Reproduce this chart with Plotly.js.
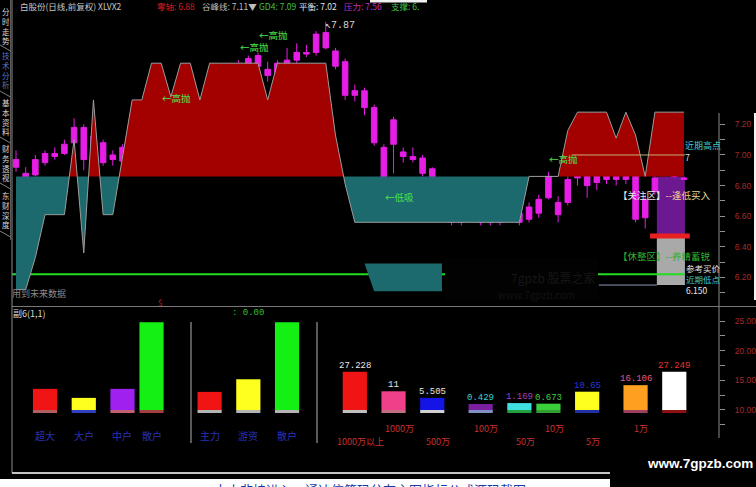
<!DOCTYPE html>
<html>
<head>
<meta charset="utf-8">
<script src="https://cdn.plot.ly/plotly-3.0.1.min.js"></script>
<style>
html,body{margin:0;padding:0;background:#000;overflow:hidden}
#chart{width:756px;height:487px}
</style>
</head>
<body>
<div id="chart"></div>
<script>
// ---- daily bars (前复权) ----
const open  = [6.97,6.82,6.87,6.95,6.99,7.01,7.08,7.18,7.00,7.08,
               6.97,6.96,7.05,7.14,7.21,7.21,7.20,7.13,7.28,7.29,
               7.21,7.31,7.40,7.46,7.59,7.65,7.56,7.52,7.59,7.62,
               7.66,7.67,7.70,7.68,7.61,7.39,7.42,7.31,7.05,7.07,
               7.02,6.99,6.98,6.91,6.75,6.69,6.59,6.59,6.73,6.57,
               6.56,6.66,6.62,6.58,6.62,6.72,6.69,6.69,6.85,6.92,
               6.82,6.84,6.86,6.84,6.92,6.59,6.76,6.95,6.99,6.85];
const high  = [7.03,6.92,7.00,7.03,7.05,7.10,7.24,7.20,7.14,7.10,
               7.03,7.07,7.16,7.24,7.25,7.29,7.23,7.30,7.33,7.31,
               7.36,7.41,7.47,7.62,7.65,7.67,7.61,7.62,7.70,7.73,
               7.72,7.81,7.87,7.70,7.63,7.46,7.44,7.33,7.07,7.25,
               7.05,7.05,7.00,6.92,6.77,6.71,6.63,6.79,6.74,6.65,
               6.67,6.68,6.64,6.69,6.74,6.89,6.73,6.86,6.97,6.97,
               6.92,6.90,6.89,6.95,6.93,6.74,6.87,7.10,7.01,6.85];
const low   = [6.89,6.80,6.86,6.93,6.97,7.00,7.07,6.90,6.98,6.93,
               6.93,6.93,7.03,7.12,7.18,7.19,7.08,7.11,7.22,7.19,
               7.19,7.27,7.36,7.42,7.56,7.54,7.48,7.49,7.52,7.52,
               7.64,7.65,7.69,7.56,7.36,7.35,7.26,7.06,6.77,6.88,
               6.95,6.95,6.86,6.77,6.61,6.54,6.54,6.58,6.54,6.54,
               6.54,6.59,6.54,6.56,6.59,6.71,6.56,6.67,6.80,6.72,
               6.77,6.81,6.80,6.81,6.56,6.52,6.74,6.90,6.85,6.84];
const close = [6.92,6.88,6.97,7.01,7.01,7.07,7.18,6.97,7.12,6.95,
               7.00,7.05,7.14,7.22,7.24,7.27,7.12,7.29,7.29,7.22,
               7.34,7.39,7.45,7.59,7.63,7.58,7.52,7.60,7.62,7.67,
               7.67,7.79,7.80,7.58,7.39,7.42,7.31,7.08,6.85,7.23,
               6.99,6.97,6.88,6.79,6.66,6.56,6.56,6.75,6.56,6.56,
               6.66,6.62,6.56,6.66,6.71,6.86,6.61,6.84,6.93,6.80,
               6.88,6.88,6.84,6.92,6.58,6.71,6.85,6.99,6.86,6.84];

// ---- XLVX2 band line (price units) ----
const bandLine = [6.12,6.12,6.33,6.61,6.61,6.61,7.10,6.36,7.36,6.61,
                  6.61,7.00,7.36,7.36,7.60,7.60,7.38,7.60,7.60,7.36,
                  7.60,7.60,7.60,7.60,7.60,7.60,7.36,7.60,7.60,7.60,
                  7.60,7.60,7.60,7.13,6.81,6.56,6.56,6.56,6.56,6.56,
                  6.56,6.56,6.56,6.56,6.56,6.56,6.56,6.56,6.56,6.56,
                  6.56,6.56,6.56,6.86,6.86,6.86,6.86,7.16,7.28,7.28,
                  7.28,7.28,7.11,7.28,7.13,6.86,7.28,7.28,7.28,7.28];
const bandBase = 6.86;

// lower support band
const lowBandIdx    = [36,37,38,39,40,41,42,43,44];
const lowBandTop    = [6.29,6.29,6.29,6.29,6.29,6.29,6.29,6.29,6.29];
const lowBandBottom = [6.29,6.11,6.11,6.11,6.11,6.11,6.11,6.11,6.11];

// key levels
const supportLevel = 6.22;
const recentHigh   = 7;
const buyPrice     = 6.47;
const recentLow    = 6.15;

// signal bars
const sellSignals = [15, 23, 25, 55];
const buySignals  = [38];

// ---- 副6 panel ----
const slotsA  = [3, 7, 11, 14];
const shareA  = [13, 5.5, 13, 68.5];
const classA  = ['超大', '大户', '中户', '散户'];
const slotsB  = [20, 24, 28];
const shareB  = [10.5, 21, 68.5];
const classB  = ['主力', '游资', '散户'];
const slotsC  = [35, 39, 43, 48, 52, 55, 59, 64, 68];
const tierVal = [27.228, 11, 5.505, 0.429, 1.169, 0.673, 10.65, 16.106, 27.249];
const tierTag = ['1000万以上', '1000万', '500万', '100万', '50万', '10万', '5万', '1万'];

const priceTicks = [6.2, 6.4, 6.6, 6.8, 7.0, 7.2];
const priceMinor = [6.1, 6.3, 6.5, 6.7, 6.9, 7.1];
const subTicks   = [10, 15, 20, 25];
const subMinor   = [7.5, 12.5, 17.5, 22.5];

// ---- drawing ----
const W = 756, H = 487;
const px = v => v / W;
const py = v => 1 - v / H;
const CJK = 'Noto Sans CJK SC, Noto Sans, sans-serif';
const MONO = 'Liberation Mono, DejaVu Sans Mono, monospace';

const priceRange = [6.013, 8.013];
const pricePx = 306 / (priceRange[1] - priceRange[0]);   // pixels per price unit
const toPx = p => (priceRange[1] - p) * pricePx;

const idx = open.map((_, i) => i);
const lastIdx = idx[idx.length - 1];

// split the band line at crossings of the base so fills meet cleanly
const fx = [], fv = [];
for (let i = 0; i < bandLine.length; i++) {
  fx.push(i); fv.push(bandLine[i]);
  if (i < bandLine.length - 1) {
    const a = bandLine[i] - bandBase, b = bandLine[i + 1] - bandBase;
    if (a * b < 0) { fx.push(i + a / (a - b)); fv.push(bandBase); }
  }
}
const baseArr = fv.map(() => bandBase);
const upper = fv.map(v => Math.max(v, bandBase));
const lower = fv.map(v => Math.min(v, bandBase));

const noLine = {width: 0, color: 'rgba(0,0,0,0)'};
const traces = [
  {type: 'scatter', x: fx, y: baseArr, mode: 'lines', line: noLine, hoverinfo: 'skip'},
  {type: 'scatter', x: fx, y: upper, mode: 'lines', line: noLine, fill: 'tonexty', fillcolor: '#a30000', hoverinfo: 'skip'},
  {type: 'scatter', x: fx, y: baseArr, mode: 'lines', line: noLine, hoverinfo: 'skip'},
  {type: 'scatter', x: fx, y: lower, mode: 'lines', line: noLine, fill: 'tonexty', fillcolor: '#1c6a6d', hoverinfo: 'skip'},
  {type: 'scatter',
   x: lowBandIdx.concat(lowBandIdx.slice().reverse()),
   y: lowBandTop.concat(lowBandBottom.slice().reverse()),
   mode: 'lines', line: noLine, fill: 'toself', fillcolor: '#1c6a6d', hoverinfo: 'skip'},
  {type: 'scatter', x: idx, y: bandLine, mode: 'lines', line: {color: '#9c9c9c', width: 1}, hoverinfo: 'skip'},
  {type: 'candlestick', x: idx, open: open, high: high, low: low, close: close,
   increasing: {line: {color: '#e61ee6', width: 1}, fillcolor: '#e61ee6'},
   decreasing: {line: {color: '#e61ee6', width: 1}, fillcolor: '#e61ee6'},
   whiskerwidth: 0, hoverinfo: 'skip'}
];

// sub-panel bars sit on a raised floor
const barFloor = -4.6, stripH = 2.5, barW = 2.5;
function barTrace(slots, vals, colors) {
  return {type: 'bar', x: slots, y: vals.map(v => v - barFloor), base: barFloor, width: barW,
          marker: {color: colors, line: {width: 0}}, xaxis: 'x', yaxis: 'y3', hoverinfo: 'skip'};
}
function stripTrace(slots, colors) {
  return {type: 'bar', x: slots, y: slots.map(() => stripH), base: barFloor - stripH, width: barW,
          marker: {color: colors, line: {width: 0}}, xaxis: 'x', yaxis: 'y3', hoverinfo: 'skip'};
}
traces.push(barTrace(slotsA, shareA, ['#f01414', '#ffff1e', '#a020f0', '#14f014']));
traces.push(stripTrace(slotsA, ['#b06060', '#3040c0', '#c06070', '#a04040']));
traces.push(barTrace(slotsB, shareB, ['#f01414', '#ffff1e', '#14f014']));
traces.push(stripTrace(slotsB, ['#b4b4b4', '#b4b4b4', '#b4b4b4']));
traces.push(barTrace(slotsC, tierVal, ['#f01414', '#f0408a', '#1414e6', '#7a1fa0', '#40e0e0', '#3ccf3c', '#ffff1e', '#ffa020', '#ffffff']));
traces.push(stripTrace(slotsC, ['#c0c0c0', '#c07080', '#d0d0d0', '#8090c0', '#20a040', '#30a030', '#2030a0', '#a04060', '#8b1010']));

// ---- annotations ----
const ann = [];
function txt(x, y, text, color, size, opts) {
  ann.push(Object.assign({xref: 'paper', yref: 'paper', x: px(x), y: py(y), text: text,
    showarrow: false, xanchor: 'left', yanchor: 'middle', borderpad: 0,
    font: {family: CJK, size: size, color: color}}, opts || {}));
}
const span = (t, c) => '<span style="color:' + c + '">' + t + '</span>';

// header line
txt(19, 6, '白股份(日线,前复权) XLVX2', '#c8c8c8', 8.5);
txt(156, 6, '零轴: 6.88', '#d02020', 8.5);
txt(201, 6, '谷峰线: 7.11▼', '#bdbdbd', 8.5);
txt(258, 6, 'GD4: 7.09', '#40c040', 8.5);
txt(298, 6, '平衡: 7.02', '#e0e0e0', 8.5);
txt(343, 6, '压力: 7.56', '#c030c0', 8.5);
txt(390, 6, '支撑: 6.', '#40c040', 8.5);

// side tabs, one stacked column each
const tabs = [
  ['分时走势', 25.5, '#d8d8d8'], ['技术分析', 70, '#4f78d0'], ['基本资料', 117, '#d8d8d8'],
  ['财务透视', 163, '#d8d8d8'], ['东财深度', 210, '#d8d8d8']
];
tabs.forEach(([t, yc, c]) => txt(5.5, yc, [...t].join('<br>'), c, 7.5, {xanchor: 'center'}));

// peak price
const peak = high.indexOf(Math.max(...high));
ann.push({xref: 'x', yref: 'y', x: peak, y: high[peak], text: '↖' + high[peak].toFixed(2),
  showarrow: false, xanchor: 'left', yanchor: 'middle', yshift: -4, xshift: -2, borderpad: 0,
  font: {family: MONO, size: 10, color: '#d8d8d8'}});

// sell tags sit above the bar high; crowded neighbours are stacked upward
const placed = [];
sellSignals.forEach(i => {
  let yc = toPx(high[i]) - 13;
  placed.forEach(p => { if (Math.abs(i - p.i) < 4 && Math.abs(yc - p.y) < 12) yc = p.y - 12; });
  placed.push({i: i, y: yc});
  ann.push({xref: 'x', yref: 'y', x: i, y: high[i], text: '←高抛',
    showarrow: false, xanchor: 'left', yanchor: 'middle', yshift: toPx(high[i]) - yc, borderpad: 0,
    font: {family: CJK, size: 9.5, color: '#4ee04e'}});
});
buySignals.forEach(i => ann.push({xref: 'x', yref: 'y', x: i, y: low[i], text: '←低吸',
  showarrow: false, xanchor: 'left', yanchor: 'middle', yshift: -7, borderpad: 0,
  font: {family: CJK, size: 9.5, color: '#4ee04e'}}));

// zone notes
txt(684, 151.5, span('近期高点', '#40c8d0') + '<br>' + span(String(recentHigh), '#d8d8d8'), '#d8d8d8', 9,
    {align: 'left'});
txt(617, 195, span('【关注区】', '#e8e8e8') + '--逢低买入', '#e6d690', 9.5);
txt(617, 256, '【休整区】--养精蓄锐', '#30b030', 9.5);
txt(685, 278.5, span('参考买价', '#e0e0e0') + '<br>' + span('近期低点', '#40c8d0') + '<br>' +
    span(recentLow.toFixed(3), '#e8e8e8'), '#e0e0e0', 8.5, {align: 'left'});
txt(11, 293, '用到未来数据', '#8a8a8a', 9);
txt(157, 302, '$', '#d02020', 8);

// faint logo mark
txt(510, 277, '7gpzb 股票之家', '#161616', 12);
txt(497, 294, 'www.7gpzb.com', '#121212', 10);

// sub panel
txt(12, 313, '副6(1,1)', '#d8d8d8', 9);
txt(231, 313, ': 0.00', '#30c030', 9, {font: {family: MONO, size: 9, color: '#30c030'}});
const tierColors = ['#e8e8e8', '#e8e8e8', '#e8e8e8', '#40d0d0', '#a040c0', '#40d040', '#2838d8', '#e85888', '#e83030'];
slotsC.forEach((s, k) => ann.push({xref: 'x', yref: 'y3', x: s, y: tierVal[k],
  text: String(tierVal[k]), showarrow: false, xanchor: 'center', yanchor: 'bottom', yshift: 0, borderpad: 0,
  font: {family: MONO, size: 9, color: tierColors[k]}}));
tierTag.forEach((t, k) => ann.push({xref: 'x', yref: 'paper', x: slotsC[k] + 0.6, y: py(k % 2 ? 428 : 441),
  text: t, showarrow: false, xanchor: 'center', yanchor: 'middle', borderpad: 0,
  font: {family: CJK, size: 9, color: '#c83030'}}));
slotsA.forEach((s, k) => ann.push({xref: 'x', yref: 'paper', x: s, y: py(435), text: classA[k],
  showarrow: false, xanchor: 'center', yanchor: 'middle', borderpad: 0, font: {family: CJK, size: 10, color: '#2830b8'}}));
slotsB.forEach((s, k) => ann.push({xref: 'x', yref: 'paper', x: s, y: py(435), text: classB[k],
  showarrow: false, xanchor: 'center', yanchor: 'middle', borderpad: 0, font: {family: CJK, size: 10, color: '#2830b8'}}));

// footer
txt(213, 489, '大小非持进入，通达信筹码分布主图指标公式源码截图', '#1838a8', 13);
txt(700, 463, 'www.7gpzb.com', '#ffffff', 13.5,
  {xanchor: 'center', font: {family: 'Liberation Sans, Arial, sans-serif', size: 13.5, color: '#ffffff', weight: 'bold'}});

// ---- shapes ----
const shapes = [];
function pline(x0, y0, x1, y1, color, width, layer) {
  shapes.push({type: 'line', xref: 'paper', yref: 'paper', x0: px(x0), y0: py(y0), x1: px(x1), y1: py(y1),
    line: {color: color, width: width || 1}, layer: layer || 'above'});
}
function prect(x0, y0, x1, y1, color) {
  shapes.push({type: 'rect', xref: 'paper', yref: 'paper', x0: px(x0), y0: py(y0), x1: px(x1), y1: py(y1),
    fillcolor: color, line: {width: 0}, layer: 'above'});
}
// right-hand zones on the last bars
const zoneX0 = 66.2, zoneX1 = lastIdx + 0.1;
shapes.push({type: 'rect', xref: 'x', yref: 'y', x0: zoneX0, x1: zoneX1, y0: buyPrice, y1: bandBase,
  fillcolor: '#6c1890', line: {width: 0}, layer: 'below'});
shapes.push({type: 'rect', xref: 'x', yref: 'y', x0: zoneX0, x1: zoneX1, y0: recentLow, y1: buyPrice,
  fillcolor: '#a9a9a9', line: {width: 0}, layer: 'below'});
shapes.push({type: 'line', xref: 'x', yref: 'y', x0: -0.4, x1: zoneX1, y0: supportLevel, y1: supportLevel,
  line: {color: '#22dd22', width: 2}, layer: 'below'});
shapes.push({type: 'line', xref: 'x', yref: 'y', x0: 60.2, x1: zoneX0, y0: recentLow, y1: recentLow,
  line: {color: '#8896b8', width: 1}, layer: 'above'});
shapes.push({type: 'line', xref: 'x', yref: 'y', x0: 57.4, x1: zoneX1, y0: recentHigh, y1: recentHigh,
  line: {color: '#c8b070', width: 1}, layer: 'above'});
shapes.push({type: 'line', xref: 'x', yref: 'y', x0: 65.5, x1: lastIdx + 0.6, y0: buyPrice, y1: buyPrice,
  line: {color: '#e82020', width: 5}, layer: 'above'});
// logo patch
prect(445, 258, 598, 300, '#020202');

// frame
pline(12, 0, 12, 473, '#8c8c8c');
pline(12, 306.5, 756, 306.5, '#787878');
pline(719, 113, 719, 306, '#8c8c8c');
pline(719, 307, 719, 438, '#8c8c8c');
pline(12, 473, 610, 473, '#c4c4c4', 2);
pline(191, 322, 191, 443, '#b4b4b4');
pline(317, 322, 317, 443, '#b4b4b4');
pline(10.5, 0, 10.5, 240, '#5a5a5a');
[48, 94, 140, 186, 234].forEach(y => pline(0, y - 3, 10.5, y + 3, '#808080'));
prect(0, 479, 610, 487, '#ffffff');
prect(610, 438, 756, 487, '#000000');
prect(754, 113, 756, 300, '#f4f4f4');
prect(370, 0, 427, 2.5, '#f0f0f0');

const tickFont = {family: 'Liberation Sans, Arial, sans-serif', size: 8.5, color: '#a82828'};
const layout = {
  width: W, height: H,
  margin: {l: 0, r: 0, t: 0, b: 0, pad: 0},
  paper_bgcolor: '#000000', plot_bgcolor: 'rgba(0,0,0,0)',
  showlegend: false, hovermode: false,
  font: {family: CJK, color: '#d0d0d0'},
  boxgap: 0.18, barmode: 'overlay',
  xaxis: {domain: [px(12), px(719)], range: [-0.413, 72.62], visible: false,
          rangeslider: {visible: false}, fixedrange: true},
  yaxis: {domain: [py(306), 1], range: priceRange, side: 'right', anchor: 'x',
          showgrid: false, zeroline: false, showline: false,
          tickmode: 'array', tickvals: priceTicks, ticktext: priceTicks.map(v => v.toFixed(2)),
          ticks: 'outside', ticklen: 5, tickcolor: '#909090', tickwidth: 1,
          ticklabelstandoff: 8, tickfont: tickFont,
          minor: {tickmode: 'array', tickvals: priceMinor, ticks: 'outside', ticklen: 5, tickcolor: '#909090'}},
  yaxis2: {domain: [py(473), py(307)], range: [-0.62, 27.36], side: 'right', anchor: 'x',
           showgrid: false, zeroline: false, showline: false,
           tickmode: 'array', tickvals: subTicks, ticktext: subTicks.map(v => v.toFixed(2)),
           ticks: 'outside', ticklen: 5, tickcolor: '#909090', tickwidth: 1,
           ticklabelstandoff: 8, tickfont: tickFont,
           minor: {tickmode: 'array', tickvals: subMinor, ticks: 'outside', ticklen: 5, tickcolor: '#909090'}},
  yaxis3: {overlaying: 'y2', range: [-57.1, 81.233], visible: false, anchor: 'x'},
  shapes: shapes,
  annotations: ann
};

// anchor the second axis so its ticks draw
traces.push({type: 'scatter', x: [], y: [], xaxis: 'x', yaxis: 'y2', hoverinfo: 'skip'});

Plotly.newPlot('chart', traces, layout, {staticPlot: true, displayModeBar: false});
</script>
</body>
</html>
